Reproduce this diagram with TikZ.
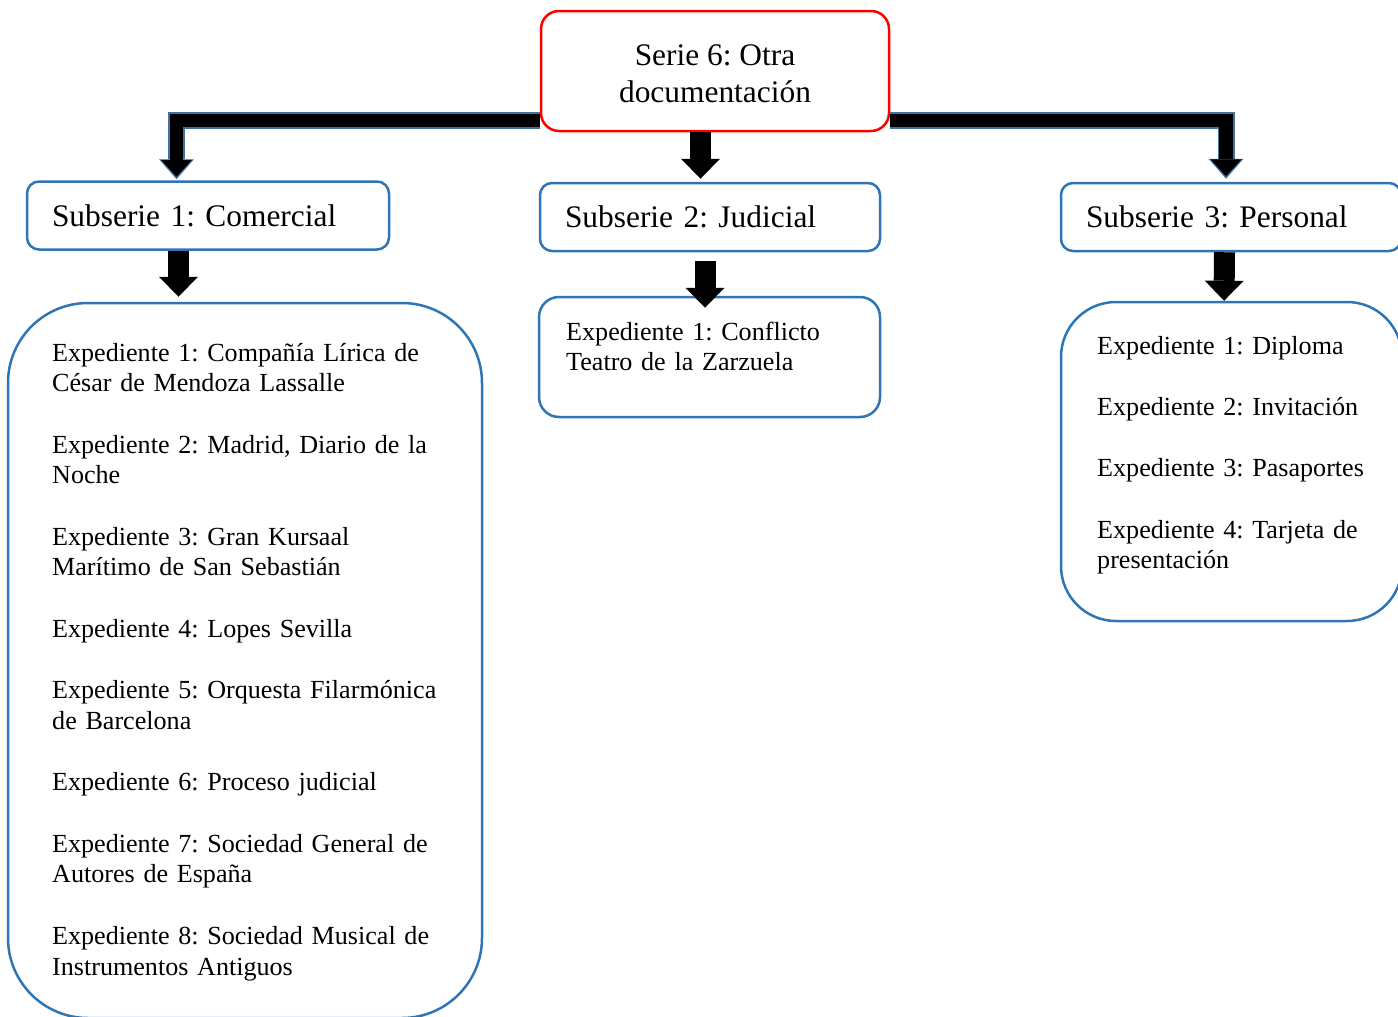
\documentclass[tikz,border=0pt]{standalone}
\usepackage{fontspec}
\setmainfont{Liberation Serif}
\usetikzlibrary{positioning, arrows.meta}
\definecolor{boxblue}{RGB}{46,117,182}
\definecolor{edgeblue}{RGB}{65,113,156}
\frenchspacing
\tikzset{
  seriebox/.style={draw=red, line width=2.5pt, rounded corners=18pt,
    minimum width=348pt, minimum height=120pt, align=center,
    font=\fontsize{31.4}{36.8}\selectfont},
  subbox/.style={draw=boxblue, line width=2.5pt, rounded corners=12pt,
    minimum height=68pt, inner xsep=25pt, inner ysep=0pt, align=left,
    text height=21.5pt, text depth=0pt, font=\fontsize{31.4}{36.8}\selectfont},
  expbox/.style={draw=boxblue, line width=2.5pt},
  exptext/.style={anchor=base west, inner sep=0pt, align=left,
    font=\fontsize{26.1}{30.7}\selectfont},
  downarrow/.style={draw=black, line width=21pt,
    -{Triangle[width=39pt, length=20pt, line width=0pt]}},
  elbowout/.style={draw=edgeblue, line width=17pt, line join=miter,
    -{Triangle[width=35pt, length=20pt, line width=0pt]}},
  elbowin/.style={draw=black, line width=13.5pt, line join=miter, shorten >=2.5pt,
    -{Triangle[width=31pt, length=17pt, line width=0pt]}}
}
\begin{document}
\begin{tikzpicture}[x=1pt, y=-1pt]
        \useasboundingbox (0,0) rectangle (1398,1017);
        \node[seriebox] (serie) at (715,71) {\strut Serie 6: Otra\\documentación};
        \node[subbox, text width=312pt] (sub1) at (208,215.5) {Subserie 1: Comercial};
        \node[subbox, text width=290pt] (sub2) at (710,217) {Subserie 2: Judicial};
        \node[subbox, text width=290pt] (sub3) at (1231,217) {Subserie 3: Personal};
        \node[expbox, rounded corners=80pt, minimum width=474pt, minimum height=715pt] (expA) at (245,660.5) {};
        \node[expbox, rounded corners=20pt, minimum width=341pt, minimum height=120pt] (expB) at (709.5,357) {};
        \node[expbox, rounded corners=55pt, minimum width=341pt, minimum height=319pt] (expC) at (1231.5,461.5) {};
        \node[exptext, text width=420pt] (listA) at (52,361) {Expediente 1: Compañía Lírica de\\César de Mendoza Lassalle\\[30.7pt]
          Expediente 2: Madrid, Diario de la\\Noche\\[30.7pt]
          Expediente 3: Gran Kursaal\\Marítimo de San Sebastián\\[30.7pt]
          Expediente 4: Lopes Sevilla\\[30.7pt]
          Expediente 5: Orquesta Filarmónica\\de Barcelona\\[30.7pt]
          Expediente 6: Proceso judicial\\[30.7pt]
          Expediente 7: Sociedad General de\\Autores de España\\[30.7pt]
          Expediente 8: Sociedad Musical de\\Instrumentos Antiguos};
        \node[exptext, text width=300pt] (listB) at (566,340) {Expediente 1: Conflicto\\Teatro de la Zarzuela};
        \node[exptext, text width=300pt] (listC) at (1097,354) {Expediente 1: Diploma\\[30.7pt]
          Expediente 2: Invitación\\[30.7pt]
          Expediente 3: Pasaportes\\[30.7pt]
          Expediente 4: Tarjeta de\\presentación};
        \draw[elbowout] ([yshift=-49.5pt]serie.west) -| ([xshift=-31.5pt, yshift=1pt]sub1.north);
        \draw[elbowin] ([yshift=-49.5pt]serie.west) -| ([xshift=-31.5pt, yshift=1pt]sub1.north);
        \draw[elbowout] ([yshift=-49.5pt]serie.east) -| ([xshift=-5pt, yshift=3pt]sub3.north);
        \draw[elbowin] ([yshift=-49.5pt]serie.east) -| ([xshift=-5pt, yshift=3pt]sub3.north);
        \draw[downarrow, shorten >=3pt] ([xshift=-14.5pt]serie.south) -- ([xshift=-9.5pt]sub2.north);
        \draw[downarrow, shorten >=5pt] ([xshift=-29.5pt]sub1.south) -- ([xshift=-66.5pt]expA.north);
        \draw[downarrow] ([xshift=-5pt, yshift=-9pt]sub2.south) -- ([xshift=-4.5pt, yshift=-12pt]expB.north);
        \draw[downarrow] ([xshift=-6.5pt]sub3.south) -- ([xshift=-7.5pt]expC.north);
        \end{tikzpicture}
\end{document}
